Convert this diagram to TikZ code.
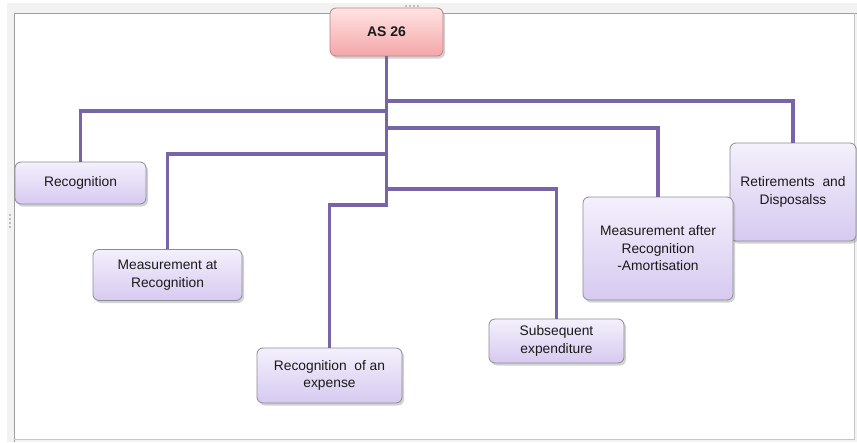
\documentclass[tikz,border=0pt]{standalone}
\usepackage{fontspec}
\setmainfont{Liberation Sans}
\usetikzlibrary{shadows}
\definecolor{connc}{HTML}{7A64A8}
\definecolor{boxtop}{HTML}{F4F0FC}
\definecolor{boxbot}{HTML}{D6CAF0}
\definecolor{boxline}{HTML}{8E8A96}
\definecolor{pinktop}{HTML}{FFE4E4}
\definecolor{pinkbot}{HTML}{F4A6A8}
\definecolor{pinkline}{HTML}{B88488}
\definecolor{txt}{HTML}{1A1A1A}
\tikzset{
  conn/.style={draw=connc, line width=3.6pt},
  lbox/.style={rectangle, rounded corners=6pt, draw=boxline, line width=0.8pt,
    top color=boxtop, bottom color=boxbot, align=center, text=txt,
    font=\fontsize{13.8}{17.5}\selectfont, inner sep=2pt,
    drop shadow={shadow xshift=2pt, shadow yshift=-2.5pt, opacity=0.35, fill=gray}},
  pbox/.style={lbox, draw=pinkline, top color=pinktop, bottom color=pinkbot,
    font=\fontsize{14}{16}\selectfont\bfseries}
}
\begin{document}
\begin{tikzpicture}[x=1pt, y=-1pt]
\useasboundingbox (0,0) rectangle (857,442);
% window frame
\fill[gray!10] (7,3) rectangle (857,442);
\fill[white] (14,13) rectangle (854,439);
\draw[gray!75, line width=1pt] (14,442) -- (14,13) -- (857,13);
\draw[gray!45, line width=0.8pt] (14,439) -- (854,439) -- (854,13);
\foreach \i in {0,...,3} \fill[gray!50] (405+4*\i,5) rectangle ++(2,2);
\foreach \i in {0,...,3} \fill[gray!50] (9,214+4*\i) rectangle ++(2,2);
% nodes
\node[pbox, minimum width=113pt, minimum height=48pt] (as) at (386.5,32) {AS 26};
\node[lbox, minimum width=131pt, minimum height=42pt] (rec) at (80.5,183) {Recognition};
\node[lbox, minimum width=149pt, minimum height=51pt] (mar) at (167.5,275) {Measurement at\\Recognition};
\node[lbox, minimum width=145pt, minimum height=55pt] (exp) at (329.5,375.5) {Recognition~~of an\\expense};
\node[lbox, minimum width=135pt, minimum height=44pt] (sub) at (556.5,341) {Subsequent\\expenditure};
\node[lbox, minimum width=126pt, minimum height=98pt] (ret) at (793,192) {Retirements~~and\\Disposalss};
\node[lbox, minimum width=150pt, minimum height=103pt] (maf) at (658,248.5) {Measurement after\\Recognition\\-Amortisation};
% connectors
\coordinate (j) at (386.5,205);
\coordinate (b1) at (386.5,101);
\coordinate (b2) at (386.5,111);
\coordinate (b3) at (386.5,128);
\coordinate (b4) at (386.5,154);
\coordinate (b5) at (386.5,189);
\draw[conn] (as.south) -- (j) -| (exp.north);
\draw[conn] (b1) -| (ret.north);
\draw[conn] (b2) -| (rec.north);
\draw[conn] (b3) -| (maf.north);
\draw[conn] (b4) -| (mar.north);
\draw[conn] (b5) -| (sub.north);
\end{tikzpicture}
\end{document}
